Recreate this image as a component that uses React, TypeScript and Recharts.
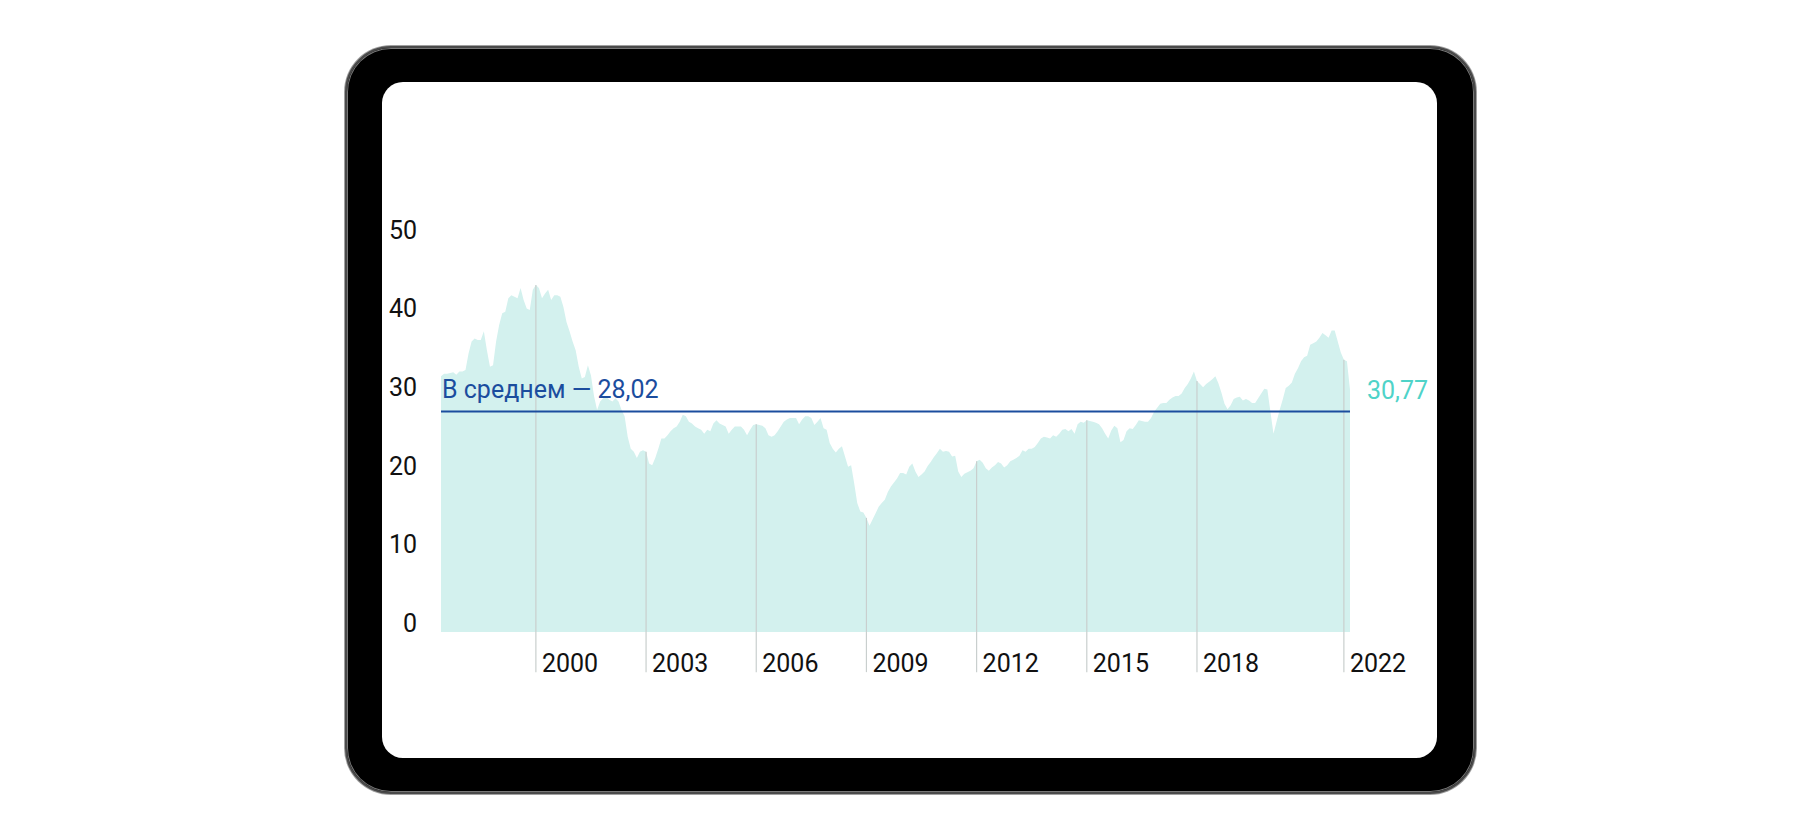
import { Area, AreaChart, ReferenceDot, ReferenceLine, XAxis, YAxis } from "recharts";

// Monthly values, June 1997 to March 2022
const firstMonth1997 = 6;
const v1997 = [32.5, 32.8, 32.8, 32.9, 33.0, 32.7, 33.1];
const v1998 = [33.1, 33.3, 35.4, 36.9, 37.3, 37.1, 37.1, 38.2, 35.8, 33.7, 33.9, 36.9];
const v1999 = [39.0, 40.5, 40.7, 42.4, 42.8, 42.6, 42.4, 43.7, 42.2, 41.1, 40.9, 43.5];
const v2000 = [44.1, 43.7, 42.4, 43.0, 43.5, 42.2, 42.8, 42.8, 42.6, 41.3, 39.4, 38.2];
const v2001 = [36.9, 35.8, 33.7, 32.2, 32.4, 33.9, 32.6, 30.0, 28.2, 29.3, 29.7, 29.9];
const v2002 = [29.5, 29.3, 29.7, 29.3, 28.2, 27.4, 24.8, 23.3, 22.9, 22.1, 22.9, 23.1];
const v2003 = [22.9, 21.4, 21.2, 22.1, 23.3, 24.6, 24.6, 25.0, 25.5, 25.9, 26.1, 26.7];
const v2004 = [27.6, 27.4, 26.7, 26.5, 26.1, 25.9, 25.7, 25.2, 25.7, 25.5, 26.5, 26.9];
const v2005 = [26.5, 26.3, 26.1, 25.2, 25.7, 26.1, 26.1, 26.1, 25.7, 25.0, 25.7, 26.3];
const v2006 = [26.4, 26.3, 26.2, 25.9, 25.0, 24.8, 25.0, 25.5, 26.1, 26.7, 27.0, 27.2];
const v2007 = [27.2, 27.2, 26.4, 27.0, 27.4, 27.4, 27.2, 26.3, 26.7, 27.2, 25.9, 25.7];
const v2008 = [24.0, 23.3, 22.8, 23.3, 23.6, 22.3, 21.0, 21.2, 18.9, 16.4, 15.3, 15.2];
const v2009 = [14.5, 13.5, 14.3, 15.1, 15.9, 16.4, 16.8, 17.8, 18.5, 19.0, 19.5, 20.2];
const v2010 = [20.2, 20.0, 21.0, 21.4, 20.4, 19.7, 20.0, 20.4, 21.1, 21.6, 22.2, 22.7];
const v2011 = [23.3, 22.9, 23.0, 22.9, 22.3, 22.4, 20.4, 19.7, 20.1, 20.3, 20.5, 20.8];
const v2012 = [21.7, 21.9, 21.5, 20.8, 20.5, 20.9, 21.2, 21.6, 21.4, 20.9, 21.2, 21.7];
const v2013 = [21.9, 22.1, 22.4, 23.1, 22.9, 23.3, 23.3, 23.5, 24.0, 24.6, 24.8, 24.7];
const v2014 = [24.6, 25.0, 24.8, 25.2, 25.7, 25.8, 25.5, 25.8, 25.2, 26.4, 26.7, 26.6];
const v2015 = [26.9, 26.8, 26.7, 26.6, 26.4, 25.9, 25.2, 24.6, 25.6, 26.2, 25.9, 24.1];
const v2016 = [24.4, 25.5, 25.9, 25.8, 26.3, 26.9, 26.8, 26.7, 26.7, 27.2, 28.0, 28.5];
const v2017 = [29.0, 29.1, 29.1, 29.5, 29.8, 30.0, 30.0, 30.3, 31.0, 31.5, 32.2, 33.1];
const v2018 = [31.9, 31.5, 31.1, 31.5, 31.8, 32.1, 32.5, 31.6, 30.4, 29.0, 28.3, 28.8];
const v2019 = [29.6, 29.8, 29.9, 29.4, 29.6, 29.4, 29.1, 29.1, 29.7, 30.3, 30.9, 30.8];
const v2020 = [28.0, 25.2, 26.7, 28.2, 29.5, 31.0, 31.3, 31.7, 32.8, 33.5, 34.4, 34.9];
const v2021 = [35.1, 36.5, 36.7, 36.9, 37.4, 38.0, 37.7, 37.4, 38.3, 38.3, 36.9, 35.5];
const v2022 = [34.6, 34.4, 30.77];

const years: [number, number[]][] = [
  [1997, v1997], [1998, v1998], [1999, v1999], [2000, v2000], [2001, v2001],
  [2002, v2002], [2003, v2003], [2004, v2004], [2005, v2005], [2006, v2006],
  [2007, v2007], [2008, v2008], [2009, v2009], [2010, v2010], [2011, v2011],
  [2012, v2012], [2013, v2013], [2014, v2014], [2015, v2015], [2016, v2016],
  [2017, v2017], [2018, v2018], [2019, v2019], [2020, v2020], [2021, v2021],
  [2022, v2022],
];

const tickYears = [2000, 2003, 2006, 2009, 2012, 2015, 2018, 2022];
const yTicks = [0, 10, 20, 30, 40, 50];
const average = 28.02;
const averageLabel = "В среднем — 28,02";
const lastLabel = "30,77";

const FONT = "Roboto, 'Liberation Sans', sans-serif";
const FONT_SIZE = 25;

const data = years.flatMap(([year, values]) =>
  values.map((v, k) => {
    const m = (year === 1997 ? firstMonth1997 : 1) + k;
    return { month: `${year}-${String(m).padStart(2, "0")}`, v };
  })
);
const lastPoint = data[data.length - 1];
const tickMonths = tickYears.map((y) => `${y}-01`);
const yearLines = tickMonths.map((m) => ({ month: m, v: data.find((d) => d.month === m)?.v ?? 0 }));

function XTick({ x, y, payload }: any) {
  return (
    <text x={x + 6} y={y + 40} fontSize={FONT_SIZE} fontFamily={FONT} fill="#111" textAnchor="start">
      {String(payload.value).slice(0, 4)}
    </text>
  );
}

function YTick({ x, y, payload }: any) {
  return (
    <text x={x} y={y} fontSize={FONT_SIZE} fontFamily={FONT} fill="#111" textAnchor="end">
      {payload.value}
    </text>
  );
}

function AverageLabel({ viewBox }: any) {
  const x = viewBox?.x ?? 0;
  const y = viewBox?.y ?? 0;
  return (
    <text x={x + 1} y={y - 13} fontSize={FONT_SIZE} fontFamily={FONT} fill="#1b4d9e">
      {averageLabel}
    </text>
  );
}

function CapeChart() {
  return (
    <AreaChart
      width={1055}
      height={676}
      data={data}
      margin={{ top: 156.5, right: 87, bottom: 125, left: 0 }}
    >
      <YAxis
        width={59}
        domain={[0, 50]}
        ticks={yTicks}
        axisLine={false}
        tickLine={false}
        tickSize={0}
        tickMargin={24}
        tick={<YTick />}
      />
      <XAxis
        dataKey="month"
        height={1}
        ticks={tickMonths}
        interval={0}
        axisLine={false}
        tickLine={false}
        tickSize={0}
        tickMargin={0}
        tick={<XTick />}
      />
      <Area
        type="linear"
        dataKey="v"
        stroke="none"
        fill="#d3f1ee"
        fillOpacity={1}
        baseValue={0}
        isAnimationActive={false}
      />
      {yearLines.map((l) => (
        <ReferenceLine
          key={l.month}
          segment={[
            { x: l.month, y: l.v },
            { x: l.month, y: -5.1 },
          ]}
          ifOverflow="visible"
          stroke="#c9cfce"
          strokeWidth={1.2}
        />
      ))}
      <ReferenceLine y={average} stroke="#1b4d9e" strokeWidth={2} label={<AverageLabel />} />
      <ReferenceDot
        x={lastPoint.month}
        y={lastPoint.v}
        r={0}
        fill="none"
        stroke="none"
        ifOverflow="visible"
        label={{ value: lastLabel, position: "right", offset: 17, fill: "#4fd3c8", fontSize: FONT_SIZE, fontFamily: FONT }}
      />
    </AreaChart>
  );
}

export default function App() {
  return (
    <div style={{ position: "absolute", left: 0, top: 0, width: 1820, height: 840, background: "#fff" }}>
      <div
        style={{
          position: "absolute",
          left: 345,
          top: 46,
          width: 1131,
          height: 748,
          boxSizing: "border-box",
          background: "#000",
          borderRadius: 46,
          border: "2px solid #4a4a4a",
          boxShadow: "0 0 0 1px #a0a0a0, inset 0 0 0 1px #777",
        }}
      />
      <div
        style={{
          position: "absolute",
          left: 382,
          top: 82,
          width: 1055,
          height: 676,
          background: "#fff",
          borderRadius: 21,
          overflow: "hidden",
        }}
      >
        <CapeChart />
      </div>
    </div>
  );
}
